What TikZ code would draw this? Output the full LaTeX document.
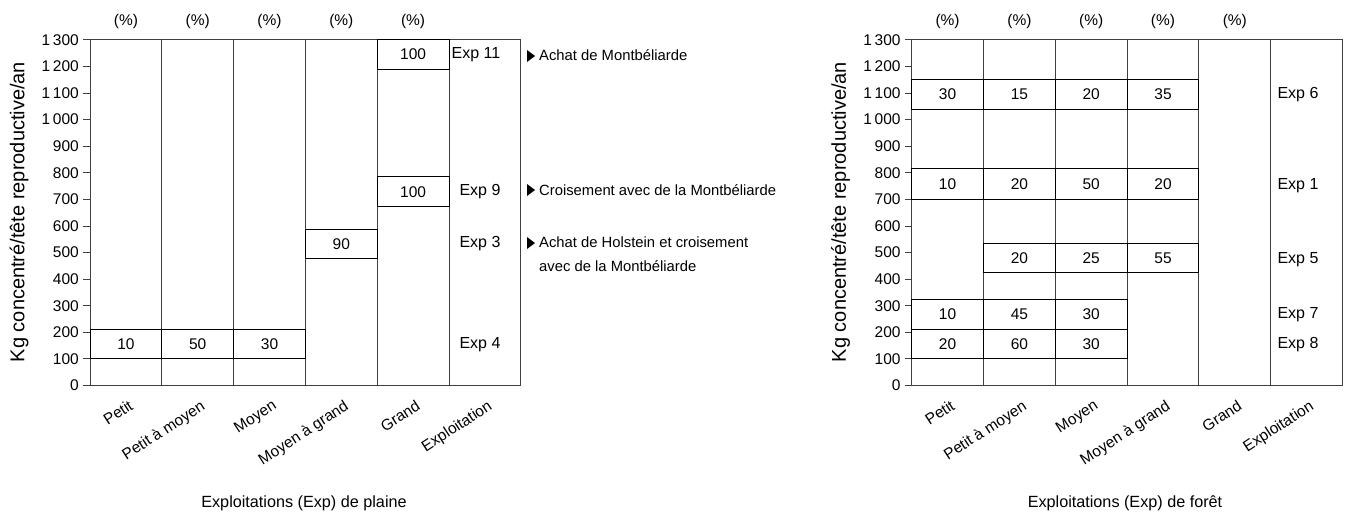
\documentclass[tikz,border=0pt]{standalone}
\usepackage{fontspec}
\setmainfont{Liberation Sans}
\usetikzlibrary{calc}
\tikzset{
  frame/.style={draw=black!75, line width=0.9pt},
  cellline/.style={draw=black, line width=0.9pt},
  txt/.style={font=\fontsize{15.5}{23}\selectfont, inner sep=0pt},
  exptxt/.style={font=\fontsize{16}{23}\selectfont, inner sep=0pt},
  ylab/.style={font=\fontsize{20}{24}\selectfont, inner sep=0pt, rotate=90},
  catlab/.style={font=\fontsize{15.5}{20}\selectfont, inner sep=0pt, rotate=33, anchor=north east},
  titletxt/.style={font=\fontsize{16.2}{20}\selectfont, inner sep=0pt},
  note/.style={font=\fontsize{14.8}{23.5}\selectfont, inner sep=0pt, anchor=west, align=left},
  tri/.style={fill=black}
}
\newcommand\cellbox[6]{%
  \draw[cellline] ({#2+(#3-1)*71.8},{385.5-0.26585*#4}) rectangle ({#2+#3*71.8},{385.5-0.26585*#5});
  \node[txt] (#1) at ({#2+(#3-0.5)*71.8},{385.5-0.26585*(#4+#5)/2}) {#6};}
\begin{document}
\begin{tikzpicture}[x=1pt,y=-1pt]
\useasboundingbox (0,0) rectangle (1347,517);

% ---------- frames and axes ----------
\foreach \P/\X in {L/90,R/911.7}{
  \draw[frame] (\X,39.9) rectangle ({\X+6*71.8},385.5);
  \foreach \i in {1,...,5}{
    \draw[frame] ({\X+\i*71.8},39.9) -- ({\X+\i*71.8},385.5);
  }
  \foreach \v/\t in {0/0,100/100,200/200,300/300,400/400,500/500,600/600,700/700,800/800,900/900,1000/1\,000,1100/1\,100,1200/1\,200,1300/1\,300}{
    \draw[frame] ({\X-7},{385.5-0.26585*\v}) -- (\X,{385.5-0.26585*\v});
    \node[txt, anchor=east] (\P t\v) at ({\X-11},{385.5-0.26585*\v}) {\t};
  }
  \foreach \i in {1,...,5}{
    \node[txt] (\P p\i) at ({\X+(\i-0.5)*71.8},21) {(\%)};
  }
  \foreach \i/\t in {1/Petit,2/Petit à moyen,3/Moyen,4/Moyen à grand,5/Grand,6/Exploitation}{
    \node[catlab] (\P c\i) at ({\X+(\i-0.5)*71.8+2},399) {\t};
  }
  \node[ylab] (\P y) at ({\X-71},212) {Kg concentré/tête reproductive/an};
}
\node[titletxt] (Ltitle) at (304,503) {Exploitations (Exp) de plaine};
\node[titletxt] (Rtitle) at (1125,503) {Exploitations (Exp) de forêt};

% ---------- left chart cells ----------
\cellbox{L4a}{90}{1}{100}{210}{10}
\cellbox{L4b}{90}{2}{100}{210}{50}
\cellbox{L4c}{90}{3}{100}{210}{30}
\cellbox{L3d}{90}{4}{478}{588}{90}
\cellbox{L11e}{90}{5}{1190}{1300}{100}
\cellbox{L9e}{90}{5}{673}{785}{100}

\node[exptxt] (Lexp11) at (476,{385.5-0.26585*1245}) {Exp 11};
\node[exptxt] (Lexp9) at (480,{385.5-0.26585*729}) {Exp 9};
\node[exptxt] (Lexp3) at (480,{385.5-0.26585*533}) {Exp 3};
\node[exptxt] (Lexp4) at (480,{385.5-0.26585*155}) {Exp 4};

% ---------- annotations ----------
\node[note] (n1) at (539,55) {Achat de Montbéliarde};
\node[note] (n2) at (539,190) {Croisement avec de la Montbéliarde};
\node[note, anchor=north west] (n3) at (539,237) {Achat de Holstein et croisement\\avec de la Montbéliarde};
\foreach \y in {56,190,243}{
  \fill[tri] (527,{\y-6}) -- (535,\y) -- (527,{\y+6}) -- cycle;
}

% ---------- right chart cells ----------
\foreach \c/\t in {1/30,2/15,3/20,4/35}{
  \cellbox{R6\c}{911.7}{\c}{1040}{1150}{\t}
}
\foreach \c/\t in {1/10,2/20,3/50,4/20}{
  \cellbox{R1\c}{911.7}{\c}{700}{815}{\t}
}
\foreach \c/\t in {2/20,3/25,4/55}{
  \cellbox{R5\c}{911.7}{\c}{424}{536}{\t}
}
\foreach \c/\t in {1/10,2/45,3/30}{
  \cellbox{R7\c}{911.7}{\c}{211}{324}{\t}
}
\foreach \c/\t in {1/20,2/60,3/30}{
  \cellbox{R8\c}{911.7}{\c}{100}{211}{\t}
}

\node[exptxt] (Rexp6) at (1298,{385.5-0.26585*1095}) {Exp 6};
\node[exptxt] (Rexp1) at (1298,{385.5-0.26585*750}) {Exp 1};
\node[exptxt] (Rexp5) at (1298,{385.5-0.26585*475}) {Exp 5};
\node[exptxt] (Rexp7) at (1298,{385.5-0.26585*267}) {Exp 7};
\node[exptxt] (Rexp8) at (1298,{385.5-0.26585*155}) {Exp 8};
\end{tikzpicture}
\end{document}
